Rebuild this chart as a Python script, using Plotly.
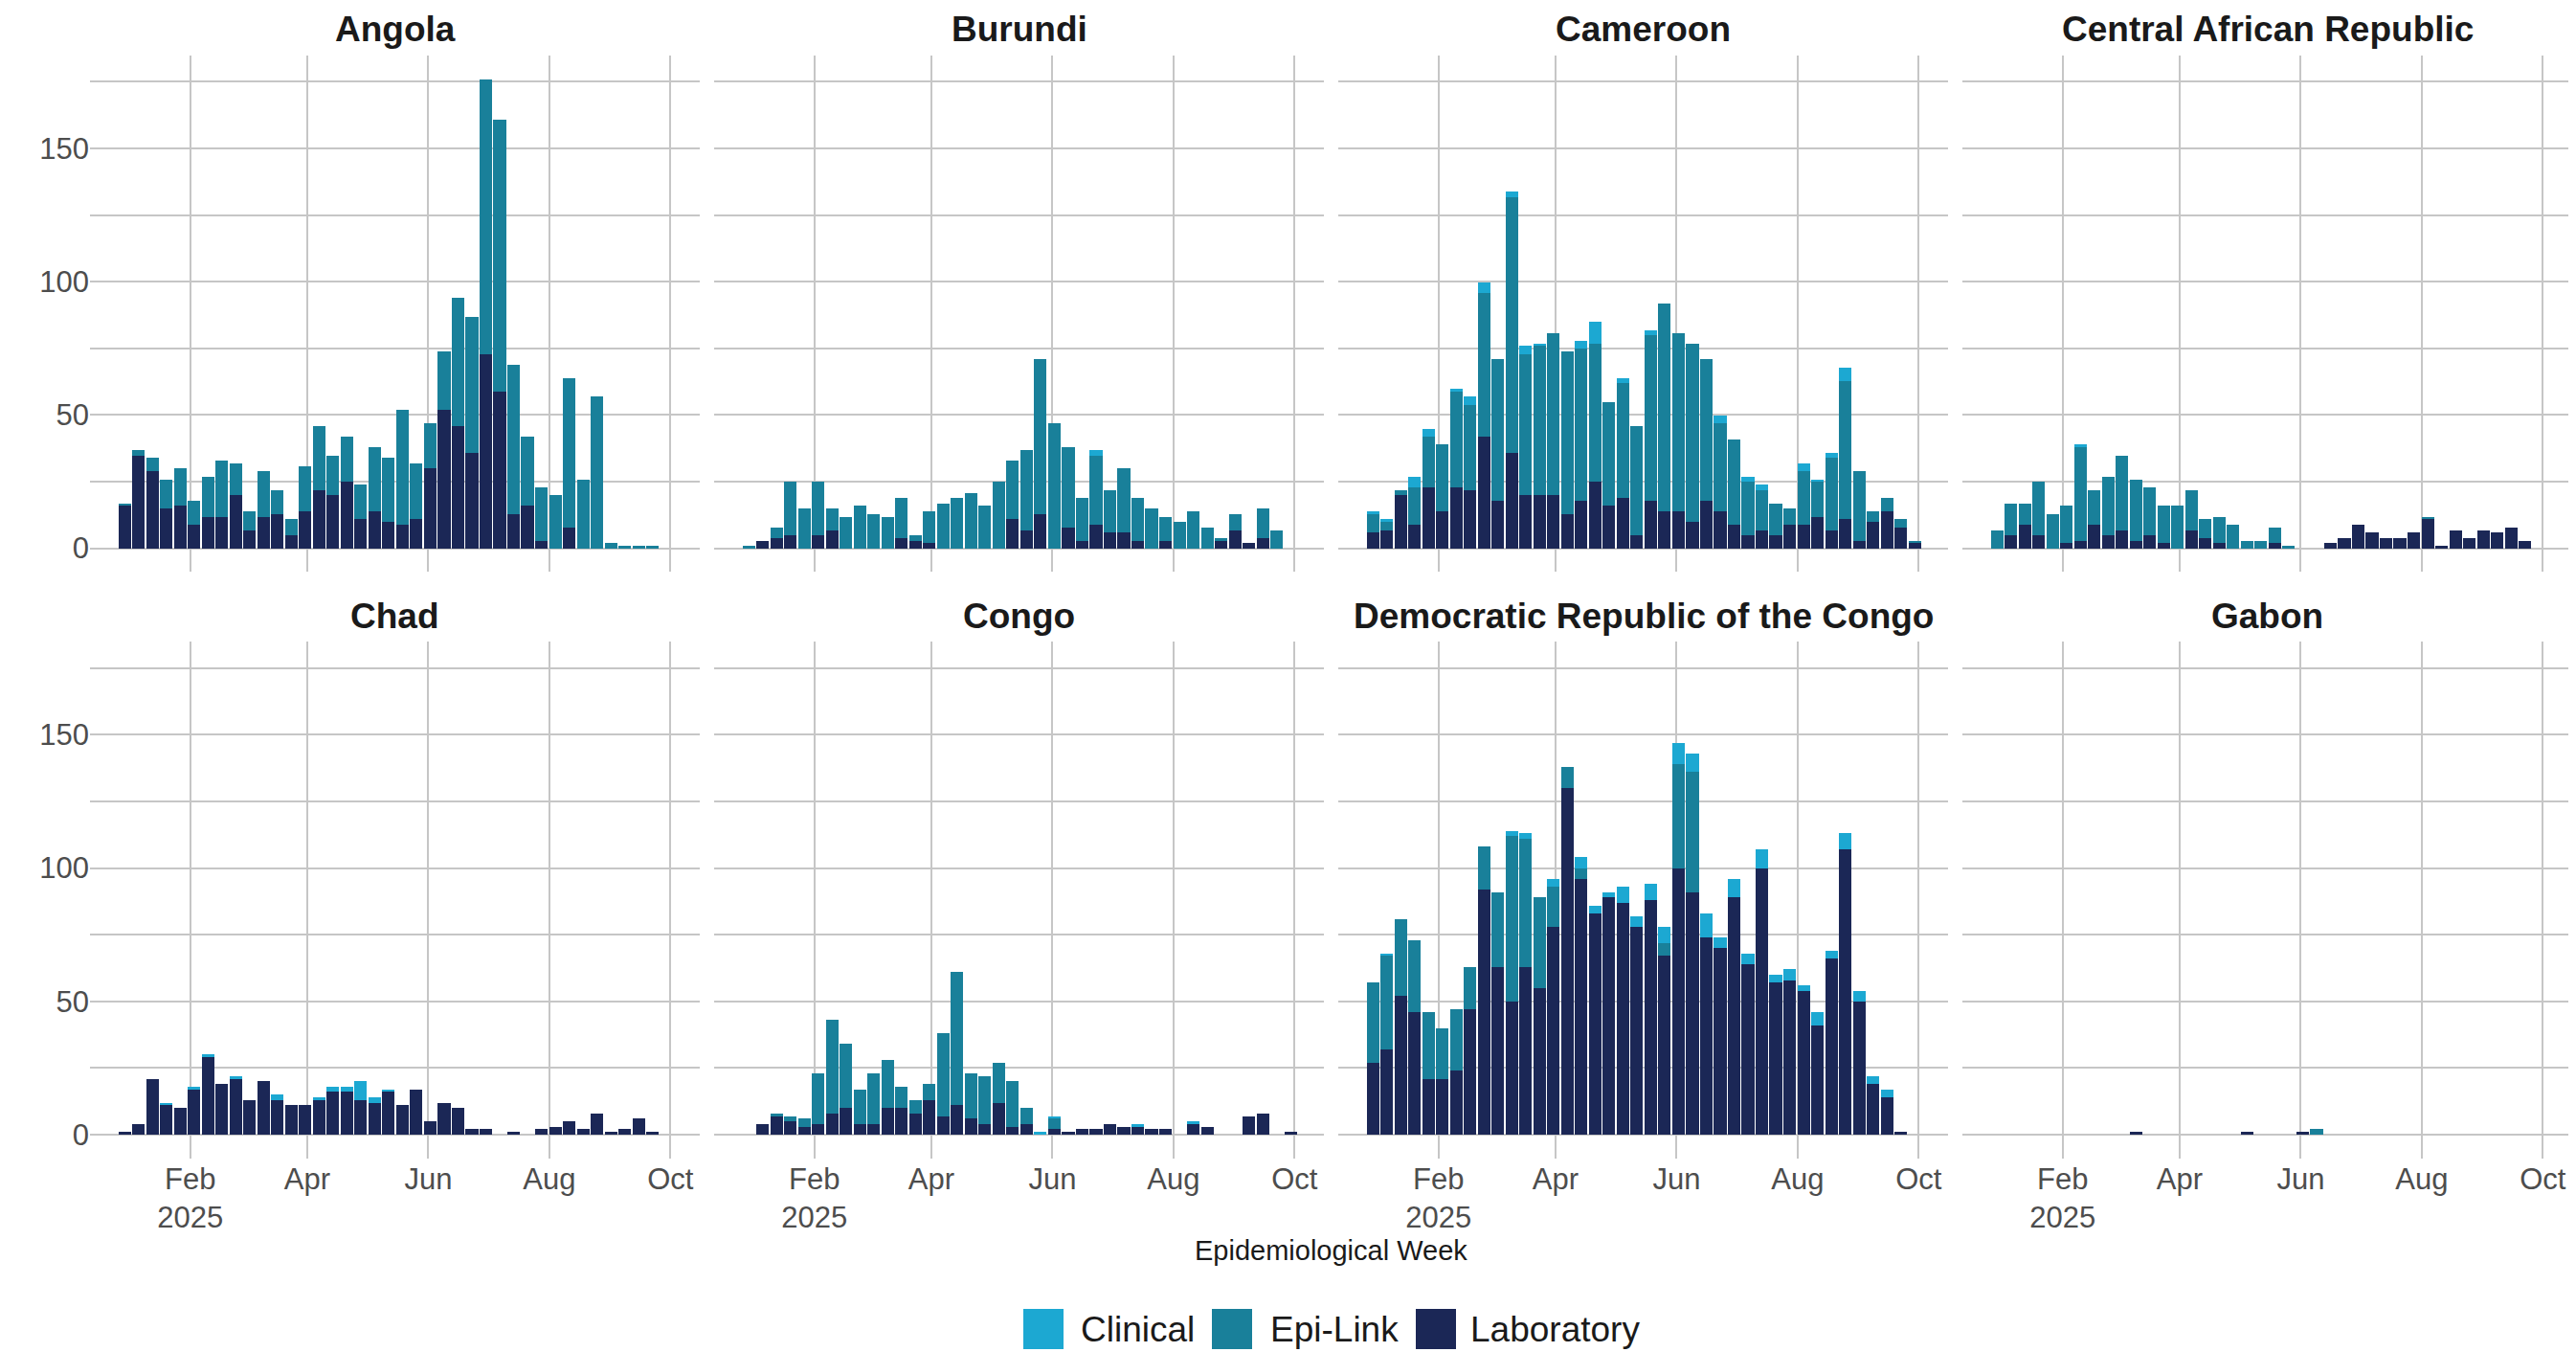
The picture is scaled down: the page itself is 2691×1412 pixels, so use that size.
import datetime as dt
import plotly.graph_objects as go

# ---------------- data ----------------
start = dt.date(2024, 12, 30)
weeks = [(start + dt.timedelta(days=7 * k)).isoformat() for k in range(40)]

countries = ["Angola", "Burundi", "Cameroon", "Central African Republic",
             "Chad", "Congo", "Democratic Republic of the Congo", "Gabon"]

angola_lab = [16,35,29,15,16,9,12,12,20,7, 12,13,5,14,22,20,25,11,14,10, 9,11,30,52,46,36,73,59,13,16, 3,0,8,0,0,0,0,0,0,0]
angola_epi = [1,2,5,11,14,9,15,21,12,7, 17,9,6,17,24,15,17,13,24,24, 43,21,17,22,48,51,103,102,56,26, 20,20,56,26,57,2,1,1,1,0]
angola_clin = [0]*40

burundi_lab = [0,3,4,5,0,5,7,0,0,0, 0,4,3,2,0,0,0,0,0,11, 7,13,0,8,3,9,6,6,3,0, 3,0,0,0,3,7,2,4,0,0]
burundi_epi = [1,0,4,20,15,20,8,12,16,13, 12,15,2,12,17,19,21,16,25,22, 30,58,47,30,16,26,16,24,16,15, 9,10,14,8,1,6,0,11,7,0]
burundi_clin = [0,0,0,0,0,0,0,0,0,0, 0,0,0,0,0,0,0,0,0,0, 0,0,0,0,0,2,0,0,0,0, 0,0,0,0,0,0,0,0,0,0]

cameroon_lab = [6,7,20,9,23,14,23,22,42,18, 36,20,20,20,13,18,25,16,19,5, 18,14,14,10,18,14,9,5,7,5, 9,9,12,7,11,3,10,14,8,2]
cameroon_epi = [7,3,2,14,19,25,36,32,54,53, 96,53,56,61,61,57,52,39,43,41, 62,78,67,67,53,33,32,20,15,12, 6,20,13,27,52,26,4,5,3,1]
cameroon_clin = [1,1,0,4,3,0,1,3,4,0, 2,3,1,0,0,3,8,0,2,0, 2,0,0,0,0,3,0,2,2,0, 0,3,1,2,5,0,0,0,0,0]

car_lab = [0,5,9,5,0,2,3,9,5,7, 3,5,2,0,7,4,2,0,0,0, 2,0,0,0,2,4,9,6,4,4, 6,11,1,7,4,7,6,8,3,0]
car_epi = [7,12,8,20,13,14,35,13,22,28, 23,18,14,16,15,7,10,9,3,3, 6,1,0,0,0,0,0,0,0,0, 0,1,0,0,0,0,0,0,0,0]
car_clin = [0,0,0,0,0,0,1,0,0,0, 0,0,0,0,0,0,0,0,0,0, 0,0,0,0,0,0,0,0,0,0, 0,0,0,0,0,0,0,0,0,0]

chad_lab = [1,4,21,11,10,17,29,19,21,13, 20,13,11,11,13,16,16,13,12,16, 11,17,5,12,10,2,2,0,1,0, 2,3,5,2,8,1,2,6,1,0]
chad_epi = [0]*40
chad_clin = [0,0,0,1,0,1,1,0,1,0, 0,2,0,0,1,2,2,7,2,1, 0,0,0,0,0,0,0,0,0,0, 0,0,0,0,0,0,0,0,0,0]

congo_lab = [0,4,7,5,3,4,8,10,4,4, 10,10,8,13,7,11,6,4,12,3, 4,0,2,1,2,2,4,3,3,2, 2,0,4,3,0,0,7,8,0,1]
congo_epi = [0,0,1,2,3,19,35,24,13,19, 18,8,5,6,31,50,17,18,15,17, 6,0,4,0,0,0,0,0,0,0, 0,0,0,0,0,0,0,0,0,0]
congo_clin = [0,0,0,0,0,0,0,0,0,0, 0,0,0,0,0,0,0,0,0,0, 0,1,1,0,0,0,0,0,1,0, 0,0,1,0,0,0,0,0,0,0]

drc_lab = [27,32,52,46,21,21,24,47,92,63, 50,63,55,78,130,96,83,89,87,78, 88,67,100,91,74,70,89,64,100,57, 58,54,41,66,107,50,19,14,1,0]
drc_epi = [30,35,29,27,25,19,23,16,16,28, 62,48,34,15,8,4,0,0,0,0, 0,5,39,45,0,0,0,0,0,0, 0,0,0,0,0,0,0,0,0,0]
drc_clin = [0,1,0,0,0,0,0,0,0,0, 2,2,0,3,0,4,3,2,6,4, 6,6,8,7,9,4,7,4,7,3, 4,2,5,3,6,4,3,3,0,0]

gabon_lab = [0,0,0,0,0,0,0,0,0,0, 1,0,0,0,0,0,0,0,1,0, 0,0,1,0,0,0,0,0,0,0, 0,0,0,0,0,0,0,0,0,0]
gabon_epi = [0,0,0,0,0,0,0,0,0,0, 0,0,0,0,0,0,0,0,0,0, 0,0,0,2,0,0,0,0,0,0, 0,0,0,0,0,0,0,0,0,0]
gabon_clin = [0]*40

series = {
    "Angola": (angola_lab, angola_epi, angola_clin),
    "Burundi": (burundi_lab, burundi_epi, burundi_clin),
    "Cameroon": (cameroon_lab, cameroon_epi, cameroon_clin),
    "Central African Republic": (car_lab, car_epi, car_clin),
    "Chad": (chad_lab, chad_epi, chad_clin),
    "Congo": (congo_lab, congo_epi, congo_clin),
    "Democratic Republic of the Congo": (drc_lab, drc_epi, drc_clin),
    "Gabon": (gabon_lab, gabon_epi, gabon_clin),
}

categories = ["Laboratory", "Epi-Link", "Clinical"]
colors = {"Laboratory": "#1b2756", "Epi-Link": "#19809a", "Clinical": "#1ca8d2"}
legend_order = ["Clinical", "Epi-Link", "Laboratory"]

x_tickvals = ["2025-02-01", "2025-04-01", "2025-06-01", "2025-08-01", "2025-10-01"]
x_ticktext = ["Feb<br>2025", "Apr", "Jun", "Aug", "Oct"]
y_tickvals = [0, 25, 50, 75, 100, 125, 150, 175]
y_ticktext = ["0", "", "50", "", "100", "", "150", ""]

# ---------------- layout geometry (page pixels; page body has an 8px margin) ----------------
OFF = 8
W, H = 2691 - OFF, 1412 - OFF
col_px = [(94, 731), (746, 1383), (1398, 2035), (2050, 2687)]
row_px = [(57.5, 597), (670, 1209.5)]  # top, bottom
FONT = "Liberation Sans, Arial, Helvetica, sans-serif"
GRID = "#c6c6c6"


def px_x(v):
    return (v - OFF) / W


def px_y(v):
    return 1 - (v - OFF) / H


fig = go.Figure()
layout = dict(
    width=W, height=H, margin=dict(l=0, r=0, t=0, b=0),
    paper_bgcolor="white", plot_bgcolor="white",
    barmode="stack", bargap=0, showlegend=False,
    font=dict(family=FONT, color="#4d4d4d"),
)
annotations = []
shapes = []

bar_width = 6.3 * 86400000

for i, c in enumerate(countries):
    r, col = divmod(i, 4)
    n = i + 1
    xa = "x" if n == 1 else f"x{n}"
    ya = "y" if n == 1 else f"y{n}"
    lab, epi, clin = series[c]
    for cat, vals in zip(categories, (lab, epi, clin)):
        fig.add_trace(go.Bar(
            x=weeks, y=vals, name=cat, xaxis=xa, yaxis=ya,
            width=bar_width, marker=dict(color=colors[cat], line=dict(width=0)),
            legendgroup=cat, showlegend=False,
        ))
    x0, x1 = col_px[col]
    top, bot = row_px[r]
    layout["xaxis" if n == 1 else f"xaxis{n}"] = dict(
        domain=[px_x(x0), min(px_x(x1), 1.0)], anchor=ya, type="date",
        range=["2024-12-12 12:00", "2025-10-15 20:00"],
        tickvals=x_tickvals, ticktext=x_ticktext,
        showticklabels=(r == 1), ticks="",
        showgrid=True, gridcolor=GRID, gridwidth=2,
        zeroline=False, showline=False,
        tickfont=dict(size=31, color="#4d4d4d", family=FONT),
    )
    layout["yaxis" if n == 1 else f"yaxis{n}"] = dict(
        domain=[px_y(bot), px_y(top)], anchor=xa,
        range=[-8.8, 185],
        tickvals=y_tickvals, ticktext=y_ticktext,
        showticklabels=(col == 0), ticks="",
        showgrid=True, gridcolor=GRID, gridwidth=2,
        zeroline=False, showline=False,
        tickfont=dict(size=31, color="#4d4d4d", family=FONT),
    )
    annotations.append(dict(
        text=f"<b>{c}</b>", x=px_x((x0 + x1) / 2), y=px_y(top - 27),
        xref="paper", yref="paper", xanchor="center", yanchor="middle",
        showarrow=False, font=dict(size=37, color="#1a1a1a", family=FONT),
    ))

# x-axis title
annotations.append(dict(
    text="Epidemiological Week", x=px_x(1390), y=px_y(1306),
    xref="paper", yref="paper", xanchor="center", yanchor="middle",
    showarrow=False, font=dict(size=29, color="#1a1a1a", family=FONT),
))

# legend (keys + labels)
leg_keys = [(1069, 1127), (1266, 1325), (1479, 1534)]
for cat, (kx, tx) in zip(legend_order, leg_keys):
    shapes.append(dict(
        type="rect", xref="paper", yref="paper",
        x0=px_x(kx), x1=px_x(kx + 42), y0=px_y(1409), y1=px_y(1367),
        fillcolor=colors[cat], line=dict(width=0),
    ))
    annotations.append(dict(
        text=cat, x=px_x(tx), y=px_y(1388), xref="paper", yref="paper",
        xanchor="left", yanchor="middle", showarrow=False,
        font=dict(size=37, color="#1a1a1a", family=FONT),
    ))

layout["annotations"] = annotations
layout["shapes"] = shapes
fig.update_layout(**layout)
fig.write_html("out.html")
